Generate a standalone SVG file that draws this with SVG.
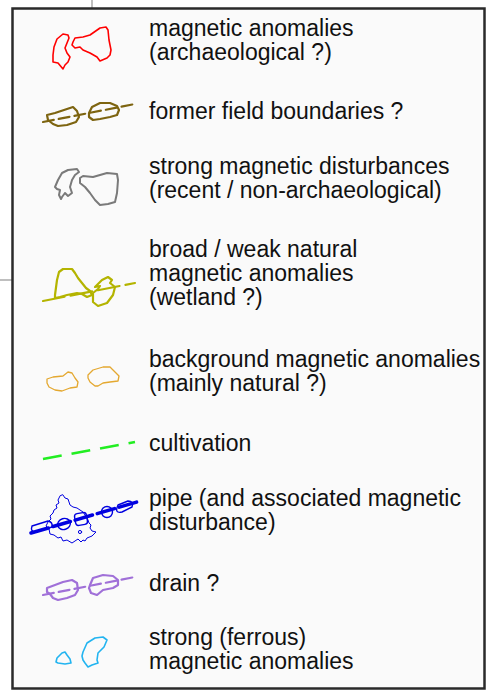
<svg xmlns="http://www.w3.org/2000/svg" width="487" height="691" viewBox="0 0 487 691">
<style>
text{font-family:"Liberation Sans",Arial,sans-serif;font-size:23px;fill:#111}
.s{fill:none;stroke-linejoin:round;stroke-linecap:round}
.red{stroke:#ff0000;stroke-width:1.6}
.brn{stroke:#7d6410;stroke-width:2.2}
.gry{stroke:#7a7a7a;stroke-width:2}
.olv{stroke:#b4b400;stroke-width:2.2}
.org{stroke:#e4a830;stroke-width:1.3}
.grn{stroke:#22ee22;stroke-width:2.6;stroke-dasharray:19 10;stroke-linecap:butt}
.blu{stroke:#0000e0}
.pur{stroke:#a070d8;stroke-width:2.2}
.cyn{stroke:#22b4f0;stroke-width:1.6}
</style>
<rect x="0" y="0" width="487" height="691" fill="#ffffff"/>
<line x1="92" y1="0" x2="92" y2="8" stroke="#aaaaaa" stroke-width="1.5"/>
<line x1="0" y1="280" x2="12" y2="280" stroke="#aaaaaa" stroke-width="1.5"/>
<rect id="frame" x="12.5" y="8.5" width="472" height="680" fill="#fafafa" stroke="#2a2a2a" stroke-width="2.5"/>

<g id="archaeological">
<polygon class="s red" points="68,35 63,34 57,39 54,47 53,55 53,62 58,63 63,69 65,65 68,62 70,57 67,53 65,48 67,43 69,38"/>
<polygon class="s red" points="73,42 75,38 83,37 90,35 100,28 106,27 108,30 109,40 111,50 110,55 107,58 100,61 97,57 90,53 83,50 80,47 75,48 72,45"/>
<text x="149" y="36">magnetic anomalies</text>
<text x="149" y="60">(archaeological ?)</text>
</g>

<g id="field-boundaries">
<line class="s brn" x1="43" y1="122" x2="135" y2="104" stroke-dasharray="11 5"/>
<polygon class="s brn" points="47,115 55,113 67,109 73,107 77,111 79,117 76,122 67,125 58,126 53,124 48,120"/>
<polygon class="s brn" points="89,113 92,107 100,103 110,103 117,106 119,110 117,115 110,117 100,119 93,120 89,117"/>
<text x="149" y="119">former field boundaries ?</text>
</g>

<g id="disturbances">
<polygon class="s gry" points="62,173 68,170 77,169 79,172 75,175 72,180 70,187 72,193 68,196 65,193 62,197 61,199 59,195 60,190 57,189 55,187 58,180"/>
<polygon class="s gry" points="80,178 83,176 93,177 107,173 117,174 118,180 117,193 115,202 108,204 100,205 95,200 90,193 85,187 80,183"/>
<text x="149" y="174">strong magnetic disturbances</text>
<text x="149" y="198">(recent / non-archaeological)</text>
</g>

<g id="wetland">
<line class="s olv" x1="43" y1="301" x2="135" y2="283" stroke-dasharray="22 6" stroke-linecap="butt"/>
<polygon class="s olv" points="55,295 57,280 59,272 63,269 72,269 75,273 78,278 82,283 86,288 90,291 92,295 87,297 82,294 77,293 67,295 60,297 55,298"/>
<polygon class="s olv" points="95,287 102,280 108,277 112,280 110,283 115,287 113,295 107,303 98,306 93,302 93,293 98,289 100,286"/>
<text x="149" y="257">broad / weak natural</text>
<text x="149" y="281">magnetic anomalies</text>
<text x="149" y="305">(wetland ?)</text>
</g>

<g id="background">
<polygon class="s org" points="47,379 53,377 63,376 68,372 72,373 75,378 78,382 77,387 70,388 62,391 55,390 49,387 47,383"/>
<polygon class="s org" points="88,375 93,370 103,367 110,367 115,372 119,376 118,381 110,382 103,383 98,386 95,386 90,382 88,378"/>
<text x="149" y="367">background magnetic anomalies</text>
<text x="149" y="391">(mainly natural ?)</text>
</g>

<g id="cultivation">
<line class="s grn" x1="43" y1="459" x2="135" y2="442"/>
<text x="149" y="451">cultivation</text>
</g>

<g id="pipe">
<polygon class="s blu" stroke-width="1" points="60,496 58,500 59,503 56,505 57,508 54,510 53,513 50,516 51,519 48,522 46,526 49,529 50,534 54,535 58,538 61,537 63,541 67,540 72,543 75,541 78,539 81,542 83,540 85,541 87,538 92,536 96,532 92,531 90,528 91,525 89,523 88,520 87,518 85,515 83,512 80,510 77,508 73,507 70,505 69,502 68,499 65,498 63,495"/>
<circle class="s blu" stroke-width="1" cx="80" cy="532" r="1.6"/>
<line class="s blu" x1="31" y1="533" x2="137" y2="502" stroke-width="3.5" stroke-dasharray="18 5" stroke-linecap="butt"/>
<path class="s blu" stroke-width="1.4" d="M32,526 L48,521 Q53,522 52,527 L36,532 Q30,532 32,526 Z"/>
<ellipse class="s blu" stroke-width="1.4" cx="64" cy="524" rx="6.5" ry="5.5" transform="rotate(-16 64 524)"/>
<rect class="s blu" stroke-width="1.4" x="75" y="513" width="12" height="12" rx="3" transform="rotate(-10 81 519)"/>
<ellipse class="s blu" stroke-width="1.4" cx="107" cy="512" rx="5.5" ry="5.5"/>
<path class="s blu" stroke-width="1.4" d="M118,505 L128,501 Q134,501 132,507 L122,512 Q114,514 118,505 Z"/>
<text x="149" y="506">pipe (and associated magnetic</text>
<text x="149" y="530">disturbance)</text>
</g>

<g id="drain">
<line class="s pur" x1="43" y1="595" x2="135" y2="577" stroke-dasharray="11 5"/>
<polygon class="s pur" points="47,588 55,585 63,582 72,580 77,583 78,590 75,595 67,598 58,600 53,598 50,594 47,592"/>
<polygon class="s pur" points="90,585 93,578 103,575 113,576 118,580 118,585 113,588 103,590 97,595 91,593 89,588"/>
<text x="149" y="591">drain ?</text>
</g>

<g id="ferrous">
<polygon class="s cyn" points="57,658 62,653 65,652 67,655 70,659 71,663 65,664 58,663 56,662"/>
<polygon class="s cyn" points="83,652 87,643 95,638 103,637 107,640 104,647 98,653 97,660 98,663 92,665 88,667 85,663 83,660 82,656"/>
<text x="149" y="645">strong (ferrous)</text>
<text x="149" y="669">magnetic anomalies</text>
</g>
</svg>
